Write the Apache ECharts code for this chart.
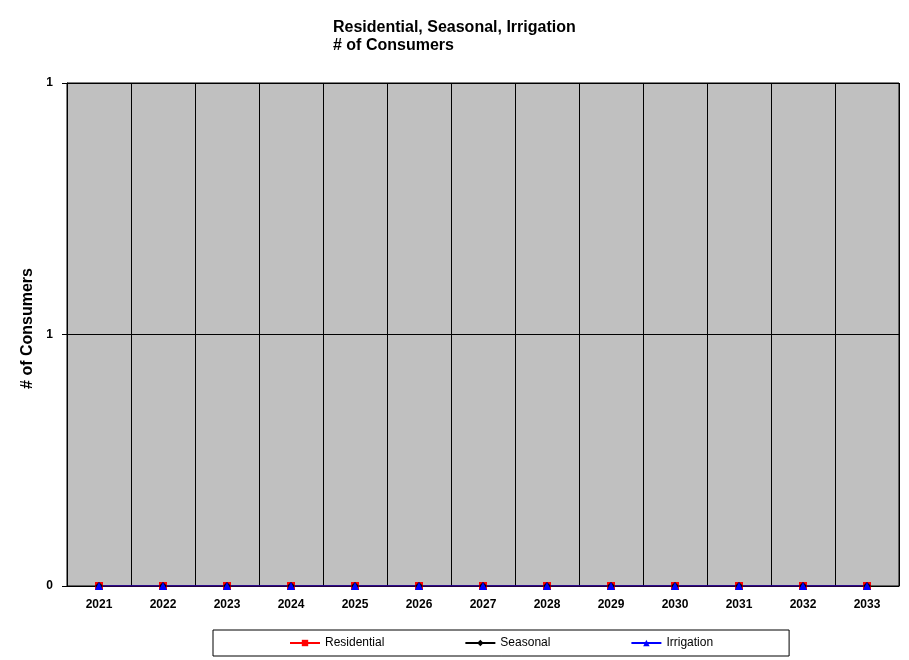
<!DOCTYPE html>
<html>
<head>
<meta charset="utf-8">
<script src="https://cdn.jsdelivr.net/npm/echarts@6/dist/echarts.min.js"></script>
<style>html,body{margin:0;padding:0;background:#fff;}#c{width:909px;height:660px;}</style>
</head>
<body>
<div id="c"></div>
<script>
const years = ['2021','2022','2023','2024','2025','2026','2027','2028','2029','2030','2031','2032','2033'];
const residential = [0,0,0,0,0,0,0,0,0,0,0,0,0];
const seasonal = [0,0,0,0,0,0,0,0,0,0,0,0,0];
const irrigation = [0,0,0,0,0,0,0,0,0,0,0,0,0];
const yTicks = [0, 0.5, 1];

const FONT = '"Liberation Sans", Arial, sans-serif';
const chart = echarts.init(document.getElementById('c'));
chart.setOption({
  animation: false,
  backgroundColor: '#fff',
  textStyle: { fontFamily: FONT, color: '#000' },
  title: {
    text: 'Residential, Seasonal, Irrigation\n# of Consumers',
    left: 333, top: 19, padding: 0,
    textAlign: 'left',
    textStyle: { fontFamily: FONT, fontSize: 16, fontWeight: 'bold', color: '#000', lineHeight: 18 }
  },
  grid: {
    left: 67, right: 10, top: 83, bottom: 74,
    outerBoundsMode: 'none', containLabel: false,
    show: true, backgroundColor: '#C0C0C0', borderColor: '#000', borderWidth: 1
  },
  legend: {
    left: 213, top: 630,
    padding: [7, 76],
    itemGap: 80, itemWidth: 30, itemHeight: 8,
    backgroundColor: '#fff', borderColor: '#000', borderWidth: 1, borderRadius: 0,
    textStyle: { fontFamily: FONT, fontSize: 12, color: '#000' },
    data: ['Residential', 'Seasonal', 'Irrigation']
  },
  xAxis: {
    type: 'category', data: years, boundaryGap: true,
    axisLine: { show: true, lineStyle: { color: '#000', width: 1 } },
    axisTick: { show: false },
    splitLine: { show: true, lineStyle: { color: '#000', width: 1 } },
    axisLabel: { fontFamily: FONT, fontSize: 12, fontWeight: 'bold', color: '#000', margin: 13 }
  },
  yAxis: {
    type: 'value', min: yTicks[0], max: yTicks[yTicks.length - 1], interval: yTicks[1] - yTicks[0],
    name: '# of Consumers', nameLocation: 'middle', nameGap: 22, nameRotate: 90,
    nameTextStyle: { fontFamily: FONT, fontSize: 16, fontWeight: 'bold', color: '#000', padding: [0, 0, 0, 12] },
    axisLine: { show: true, lineStyle: { color: '#000', width: 1 } },
    axisTick: { show: true, length: 5, lineStyle: { color: '#000' } },
    splitLine: { show: true, lineStyle: { color: '#000', width: 1 } },
    axisLabel: { fontFamily: FONT, fontSize: 12, fontWeight: 'bold', color: '#000', margin: 14,
      formatter: v => String(Math.round(v)) }
  },
  series: [
    { name: 'Residential', type: 'line', data: residential, symbol: 'rect', symbolSize: 8,
      itemStyle: { color: '#FF0000' }, lineStyle: { color: '#FF0000', width: 1 } },
    { name: 'Seasonal', type: 'line', data: seasonal, symbol: 'diamond', symbolSize: 8,
      itemStyle: { color: '#000' }, lineStyle: { color: '#000', width: 1 } },
    { name: 'Irrigation', type: 'line', data: irrigation, symbol: 'triangle', symbolSize: 8,
      itemStyle: { color: '#0000FF' }, lineStyle: { color: '#0000FF', width: 1 } }
  ]
});
</script>
</body>
</html>
